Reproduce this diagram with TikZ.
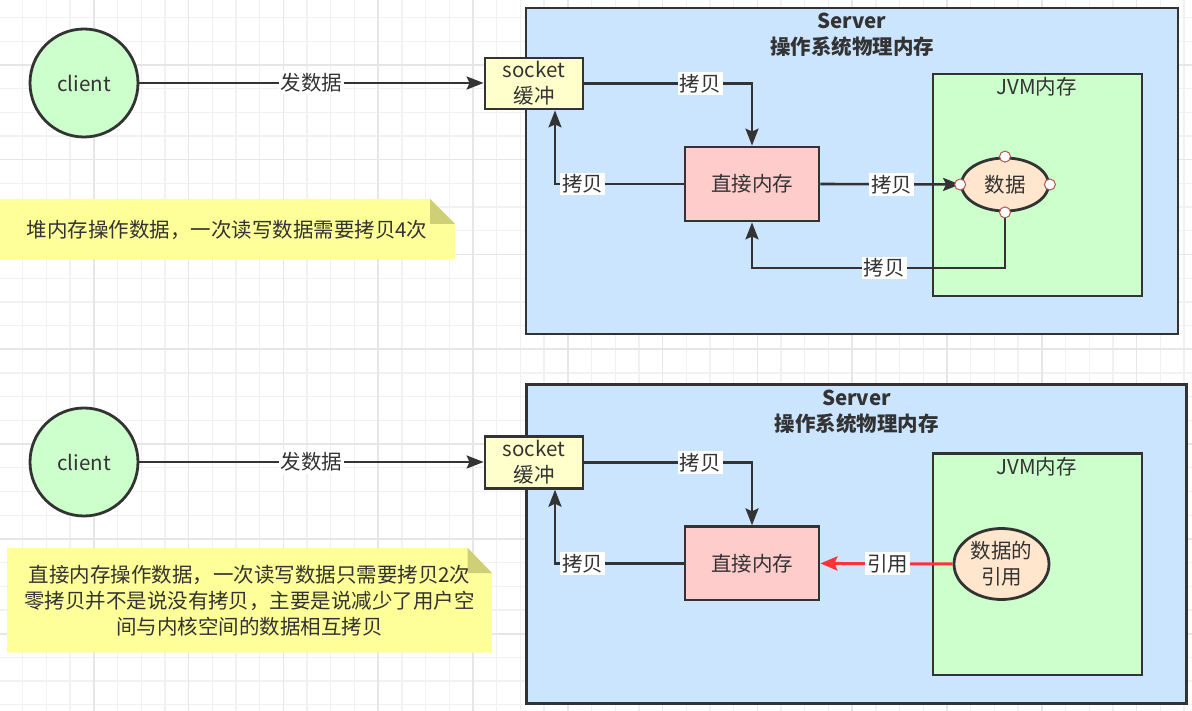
\documentclass[tikz,border=0pt]{standalone}
\usepackage{fontspec}
\setmainfont{Noto Sans CJK SC}
\usetikzlibrary{arrows.meta,shapes.geometric,calc}
\definecolor{ink}{HTML}{333333}
\definecolor{gminc}{HTML}{F1F1F1}
\definecolor{gmajc}{HTML}{E6E6E6}
\definecolor{greenf}{HTML}{CCFFCC}
\definecolor{yellowf}{HTML}{FFFFCC}
\definecolor{bluef}{HTML}{CCE5FF}
\definecolor{pinkf}{HTML}{FFCCCC}
\definecolor{peachf}{HTML}{FFE6CC}
\definecolor{notef}{HTML}{FFFF99}
\definecolor{foldf}{HTML}{CFCF78}
\definecolor{handlec}{HTML}{B85450}
\definecolor{redc}{HTML}{FF3333}
\newcommand\lblfont{\fontsize{20.5}{26}\selectfont}
\tikzset{
  gmin/.style={draw=gminc, line width=1.3pt},
  gmaj/.style={draw=gmajc, line width=1.6pt},
  box/.style={draw=ink, line width=2.8pt, inner sep=0pt, text=ink, font=\lblfont, align=center},
  txt/.style={text=ink, font=\lblfont, inner sep=0pt, align=center},
  ttl/.style={text=ink, font=\lblfont\bfseries, inner sep=0pt, align=center},
  arr/.style={draw=ink, line width=2.6pt, -{Stealth[length=17pt,width=13pt,inset=3pt]}},
  redarr/.style={draw=redc, line width=3pt, -{Stealth[length=17pt,width=14pt,inset=3pt]}},
  lbl/.style={fill=white, text=ink, font=\lblfont, inner xsep=2pt, inner ysep=2pt},
  handle/.style={circle, draw=handlec, fill=white, line width=1pt, minimum size=11pt, inner sep=0pt},
}
\begin{document}
\begin{tikzpicture}[x=1pt,y=-1pt]
\useasboundingbox (0,0) rectangle (1192,711);
\fill[white] (0,0) rectangle (1192,711);
% background grid
\foreach \i in {0,...,49}{\draw[gmin] ({22.7+\i*23.7},0) -- ({22.7+\i*23.7},711);}
\foreach \j in {0,...,29}{\draw[gmin] (0,{17.5+\j*23.7}) -- (1192,{17.5+\j*23.7});}
\foreach \i in {3,7,...,47}{\draw[gmaj] ({22.7+\i*23.7},0) -- ({22.7+\i*23.7},711);}
\foreach \j in {2,6,...,26}{\draw[gmaj] (0,{17.5+\j*23.7}) -- (1192,{17.5+\j*23.7});}

% ===================== top diagram =====================
\node[box, circle, fill=greenf, minimum size=108pt] (clientT) at (84,83) {client};
\node[box, fill=bluef, minimum width=652pt, minimum height=326pt] (serverT) at (852,171) {};
\node[ttl] (titleT) at (852,34.7) {Server\\操作系统物理内存};
\node[box, fill=yellowf, minimum width=98pt, minimum height=51pt] (socketT) at (534,83.5) {socket\\缓冲};
\node[box, fill=pinkf, minimum width=134pt, minimum height=74pt] (directT) at (752,184) {直接内存};
\node[box, fill=greenf, minimum width=209pt, minimum height=222pt] (jvmT) at (1037.5,185) {};
\node[txt] (jvmlabT) at (1036.5,87) {JVM内存};
\node[box, ellipse, fill=peachf, minimum width=87pt, minimum height=53pt] (dataT) at (1005,184.5) {数据};

% note top
\fill[notef] (0,199) -- (430,199) -- (455,224) -- (455,259) -- (0,259) -- cycle;
\fill[foldf] (430,199) -- (430,224) -- (455,224) -- cycle;
\node[txt] (noteT) at (227,230) {堆内存操作数据，一次读写数据需要拷贝4次};

\coordinate (yT) at (0,268);
\draw[arr] (clientT.east) -- node[lbl]{发数据} (clientT.east -| socketT.west);
\draw[arr] (socketT.east) -| node[lbl, pos=0.346]{拷贝} (directT.north);
\draw[arr] (directT.west) -| node[lbl, pos=0.392]{拷贝} ([xshift=21pt]socketT.south);
\draw[arr] (directT.east) -- node[lbl, pos=0.51]{拷贝} (dataT.west);
\draw[arr] (dataT.south) -- (dataT.south |- yT) -- node[lbl, pos=0.478]{拷贝} (directT.south |- yT) -- (directT.south);

\node[handle] (hnT) at (dataT.north) {};
\node[handle] (hsT) at (dataT.south) {};
\node[handle] (heT) at (dataT.east) {};
\node[handle] (hwT) at (dataT.west) {};

% ===================== bottom diagram =====================
\node[box, circle, fill=greenf, minimum size=108pt] (clientB) at (84,462) {client};
\node[box, fill=bluef, minimum width=660pt, minimum height=319pt] (serverB) at (856.3,543.8) {};
\node[ttl] (titleB) at (856.5,411.6) {Server\\操作系统物理内存};
\node[box, fill=yellowf, minimum width=98pt, minimum height=51.6pt] (socketB) at (534,462.5) {socket\\缓冲};
\node[box, fill=pinkf, minimum width=134pt, minimum height=73.3pt] (directB) at (752,563.4) {直接内存};
\node[box, fill=greenf, minimum width=209pt, minimum height=221.7pt] (jvmB) at (1037.5,564.2) {};
\node[txt] (jvmlabB) at (1036.5,466.7) {JVM内存};
\node[box, ellipse, fill=peachf, minimum width=95pt, minimum height=71pt] (refB) at (1001.5,564) {数据的\\引用};

% note bottom
\fill[notef] (7,548) -- (467.7,548) -- (492,573) -- (492,652.7) -- (7,652.7) -- cycle;
\fill[foldf] (467.7,548) -- (467.7,573) -- (492,573) -- cycle;
\node[txt] (noteB) at (249.5,601) {直接内存操作数据，一次读写数据只需要拷贝2次\\零拷贝并不是说没有拷贝，主要是说减少了用户空\\间与内核空间的数据相互拷贝};

\draw[arr] (clientB.east) -- node[lbl]{发数据} (clientB.east -| socketB.west);
\draw[arr] (socketB.east) -| node[lbl, pos=0.346]{拷贝} (directB.north);
\draw[arr] (directB.west) -| node[lbl, pos=0.392]{拷贝} ([xshift=21pt]socketB.south);
\draw[redarr] (refB.west) -- node[lbl, pos=0.49]{引用} (directB.east);
\end{tikzpicture}
\end{document}
